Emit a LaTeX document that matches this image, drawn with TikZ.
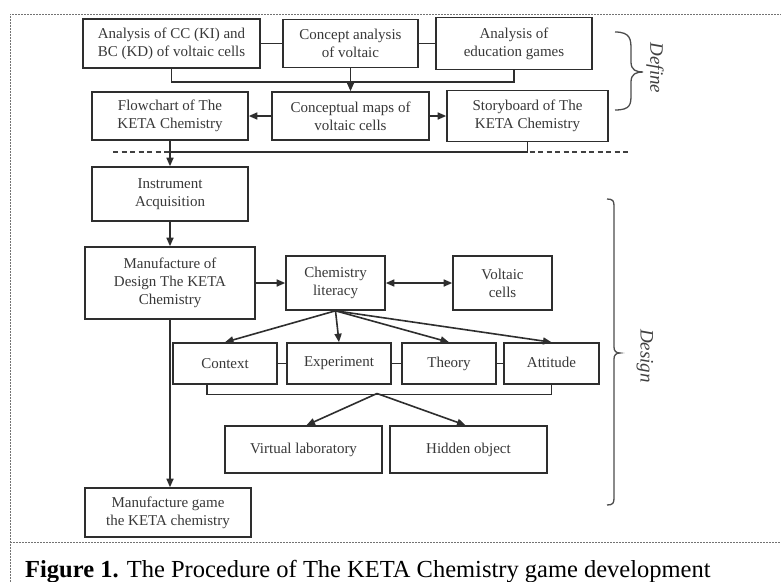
\documentclass[tikz,border=0pt]{standalone}
\usepackage{fontspec}
\setmainfont{Liberation Serif}
\usetikzlibrary{arrows.meta,calc}
\begin{document}
\begin{tikzpicture}[x=1pt,y=-1pt,
  box/.style={draw=black!82, line width=1.6pt, align=center, inner sep=0pt,
    font=\fontsize{15}{18}\selectfont, text=black!78},
  arr/.style={-{Triangle[length=8.5pt,width=7pt]}, line width=1.6pt, draw=black!82},
  dbl/.style={{Triangle[length=8.5pt,width=7pt]}-{Triangle[length=8.5pt,width=7pt]}, line width=1.6pt, draw=black!82},
  ln/.style={line width=1.6pt, draw=black!82},
  frame/.style={draw=black!55, line width=0.6pt, dash pattern=on 2pt off 1pt},
  brc/.style={draw=black!70, line width=1.3pt},
  side/.style={font=\itshape\fontsize{19}{22}\selectfont, text=black!75, rotate=-90, inner sep=0pt}]
\useasboundingbox (0,0) rectangle (781,581);
\fill[white] (0,0) rectangle (781,581);
% outer frame
\coordinate (ftl) at (10,14);
\coordinate (ftr) at (781,14);
\coordinate (fbl) at (10,582);
\coordinate (sl) at (10,542);
\coordinate (sr) at (781,542);
\draw[frame] (fbl) -- (ftl) -- (ftr);
\draw[frame] (sl) -- (sr);
% define row 1
\node[box, minimum width=177pt, minimum height=49pt] (a1) at (171.5,43.5) {Analysis of CC (KI) and\\BC (KD) of voltaic cells};
\node[box, minimum width=135pt, minimum height=48pt] (a2) at (350.5,43.5) {Concept analysis\\of voltaic};
\node[box, minimum width=156pt, minimum height=52pt] (a3) at (514,43.5) {Analysis of\\education games};
% define row 2
\node[box, minimum width=156pt, minimum height=48pt] (fc) at (170,116) {Flowchart of The\\KETA Chemistry};
\node[box, minimum width=157pt, minimum height=48pt] (cm) at (350.5,116) {Conceptual maps of\\voltaic cells};
\node[box, minimum width=161pt, minimum height=51pt] (sb) at (527.5,116) {Storyboard of The\\KETA Chemistry};
% design
\node[box, minimum width=156pt, minimum height=54pt] (ia) at (170,194) {Instrument\\Acquisition};
\node[box, minimum width=170pt, minimum height=72pt] (md) at (170,283) {Manufacture of\\Design The KETA\\Chemistry};
\node[box, minimum width=99pt, minimum height=54pt] (cl) at (335.5,283) {Chemistry\\literacy};
\node[box, minimum width=99pt, minimum height=54pt] (vc) at (502.5,283) {Voltaic\\cells};
\node[box, minimum width=104pt, minimum height=41pt] (ctx) at (225,363.5) {Context};
\node[box, minimum width=104pt, minimum height=41pt] (exp) at (339,363.5) {\raisebox{3pt}{Experiment}};
\node[box, minimum width=94pt, minimum height=41pt] (th) at (449,363.5) {\raisebox{2pt}{Theory}};
\node[box, minimum width=95pt, minimum height=41pt] (att) at (551.5,363.5) {\raisebox{3pt}{Attitude}};
\node[box, minimum width=157pt, minimum height=47pt] (vl) at (303.5,449.5) {Virtual laboratory};
\node[box, minimum width=157pt, minimum height=47pt] (ho) at (468.5,449.5) {Hidden object};
\node[box, minimum width=166pt, minimum height=49pt] (mg) at (168,512.5) {Manufacture game\\the KETA chemistry};
% connectors define
\draw[ln] (a1.east) -- (a2.west);
\draw[ln] (a2.east) -- (a3.west);
\draw[ln] (a1.south) -- ++(0,13) -| (a3.south);
\draw[arr] (a2.south) -- (cm.north);
\draw[arr] (cm.west) -- (fc.east);
\draw[arr] (cm.east) -- (sb.west);
% divider
\coordinate (dv1) at (113,152);
\coordinate (dv2) at (628,152);
\draw[line width=1.2pt, draw=black!75, dash pattern=on 5pt off 3.5pt] (dv1) -- (dv2);
\coordinate (jn) at (170,152);
\draw[ln] (sb.south) |- (jn);
\draw[arr] (fc.south) -- (ia.north);
% design connectors
\draw[arr] (ia.south) -- (md.north);
\draw[arr] (md.east) -- (cl.west);
\draw[dbl] (cl.east) -- (vc.west);
\draw[arr] (cl.south) -- (ctx.north);
\draw[arr] (cl.south) -- (exp.north);
\draw[arr] (cl.south) -- (th.north);
\draw[arr] (cl.south) -- (att.north);
\draw[ln] (ctx.east) -- (exp.west);
\draw[ln] (exp.east) -- (th.west);
\draw[ln] (th.east) -- (att.west);
\coordinate (bl) at ([xshift=-18pt]ctx.south);
\draw[ln] (bl) -- ++(0,9.5) -| (att.south);
\coordinate (bm) at (377,393.5);
\draw[arr] (bm) -- ([xshift=3pt]vl.north);
\draw[arr] (bm) -- ([xshift=-3pt]ho.north);
\draw[arr] (md.south) -- (md.south |- mg.north);
% braces
\draw[brc] (615,32) .. controls (631,32) and (631,40) .. (631,50) -- (631,62)
  .. controls (631,70) and (636,72) .. (643,72)
  .. controls (636,72) and (631,74) .. (631,82) -- (631,94)
  .. controls (631,104) and (631,110) .. (615,110);
\draw[brc] (607,199) .. controls (613,199) and (614,201) .. (614,206) -- (614,347)
  .. controls (614,351) and (616,353) .. (620,353)
  .. controls (616,353) and (614,355) .. (614,359) -- (614,498)
  .. controls (614,503) and (613,505) .. (607,505);
\node[side] (def) at (655,68) {Define};
\node[side] (des) at (645,356) {Design};
% caption
\node[anchor=base west, inner sep=0pt, font=\fontsize{24.5}{28}\selectfont, text=black] (cap) at (25,577)
  {\textbf{Figure 1.} The Procedure of The KETA Chemistry game development};
\end{tikzpicture}
\end{document}
